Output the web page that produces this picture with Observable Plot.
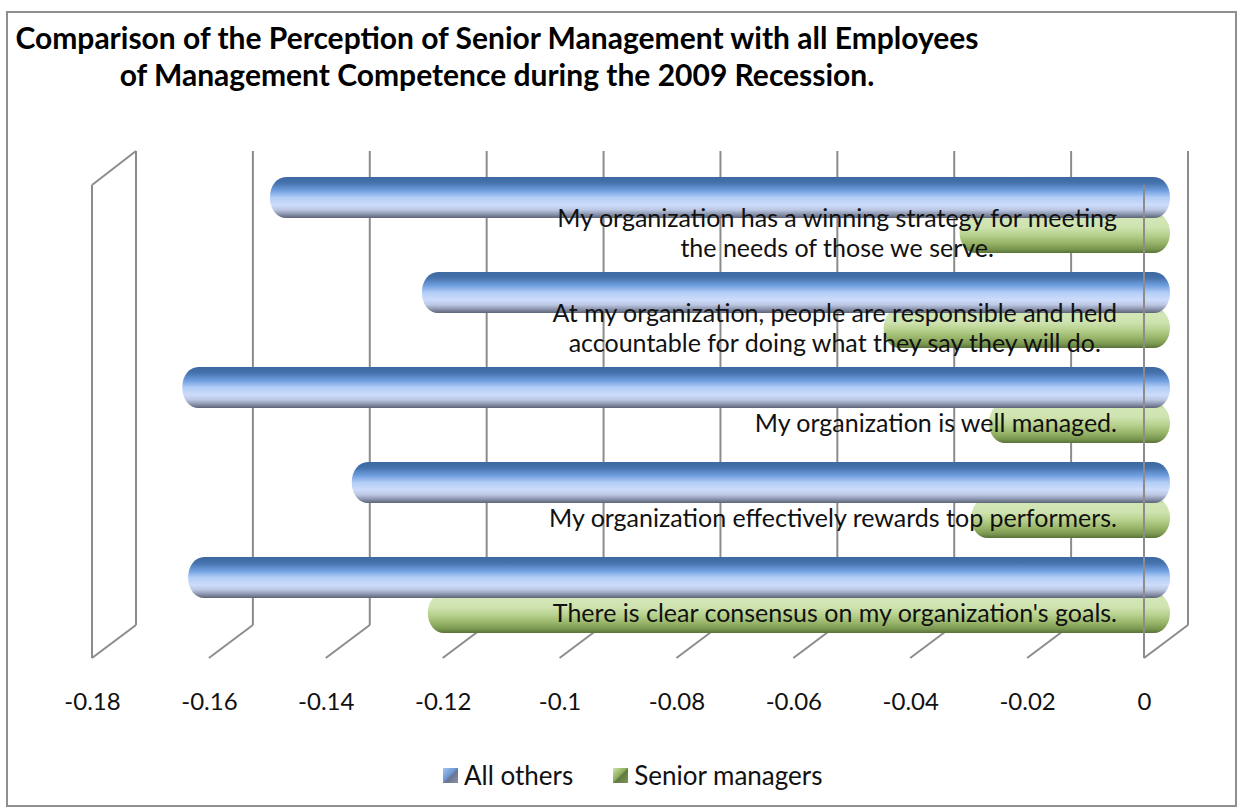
<!DOCTYPE html>
<html><head><meta charset="utf-8">
<script src="https://cdn.jsdelivr.net/npm/d3@7"></script>
<script src="https://cdn.jsdelivr.net/npm/@observablehq/plot@0.6"></script>
<style>
body{margin:0;background:#fff;font-family:Lato,"Open Sans",sans-serif;}
#wrap{position:relative;width:1241px;height:812px;overflow:hidden;background:#fff;}
#border{position:absolute;left:6px;top:11px;width:1231px;height:796px;border:2px solid #8f8f8f;box-sizing:border-box;}
#title{position:absolute;left:0;top:19px;width:994px;text-align:center;font-weight:bold;font-size:30px;line-height:37px;color:#000;white-space:nowrap;}
#chart{position:absolute;left:0;top:0;}
#legend{position:absolute;left:443px;top:759px;height:32px;display:flex;align-items:center;font-size:26px;color:#111;white-space:nowrap;}
.sw{display:inline-block;width:15px;height:15px;margin-right:6px;}
.item{display:flex;align-items:center;margin-right:40px;}
</style></head>
<body><div id="wrap"><div id="border"></div><div id="title">Comparison of the Perception of Senior Management with all Employees<br>of Management Competence during the 2009 Recession.</div><div id="chart"></div><div id="legend"></div></div>
<script>
const categories = [
  "My organization has a winning strategy for meeting\nthe needs of those we serve.",
  "At my organization, people are responsible and held\naccountable for doing what they say they will do.",
  "My organization is well managed.",
  "My organization effectively rewards top performers.",
  "There is clear consensus on my organization's goals."
];
const seriesNames = ["All others", "Senior managers"];
const allOthers = [-0.154, -0.128, -0.169, -0.140, -0.168];
const seniorManagers = [-0.036, -0.049, -0.031, -0.034, -0.127];
const tickValues = [-0.18, -0.16, -0.14, -0.12, -0.1, -0.08, -0.06, -0.04, -0.02, 0];
const tickLabels = ["-0.18", "-0.16", "-0.14", "-0.12", "-0.1", "-0.08", "-0.06", "-0.04", "-0.02", "0"];

const othersRows = categories.map((c, i) => ({category: c, value: allOthers[i]}));
const seniorRows = categories.map((c, i) => ({category: c, value: seniorManagers[i]}));

const DX = 44, DY = 33, GRID = "#8c8c8c";

// 3D frame: walls and floor lines derived from the x scale
function backFrame(index, scales, values, dimensions) {
  const x = scales.x;
  const yb = dimensions.height - dimensions.marginBottom;
  const yt = dimensions.marginTop;
  const g = d3.create("svg:g").attr("stroke", GRID).attr("stroke-width", 2).attr("fill", "none");
  for (const t of tickValues) {
    g.append("line").attr("x1", x(t) + DX).attr("x2", x(t) + DX).attr("y1", yt).attr("y2", yb - DY);
    g.append("line").attr("x1", x(t)).attr("x2", x(t) + DX).attr("y1", yb).attr("y2", yb - DY);
  }
  const x0 = x(tickValues[0]);
  g.append("line").attr("x1", x0).attr("x2", x0).attr("y1", yt + DY + 1).attr("y2", yb);
  g.append("line").attr("x1", x0).attr("x2", x0 + DX).attr("y1", yt + DY + 1).attr("y2", yt);
  return g.node();
}
function frontFrame(index, scales, values, dimensions) {
  const x = scales.x;
  const yb = dimensions.height - dimensions.marginBottom;
  const yt = dimensions.marginTop;
  const xe = x(tickValues[tickValues.length - 1]);
  const g = d3.create("svg:g").attr("stroke", GRID).attr("stroke-width", 2).attr("fill", "none");
  g.append("line").attr("x1", xe).attr("x2", xe).attr("y1", yt + DY + 1).attr("y2", yb);
  return g.node();
}

const plot = Plot.plot({
  width: 1241,
  height: 812,
  marginLeft: 92,
  marginRight: 97,
  marginTop: 151,
  marginBottom: 154,
  x: {domain: [-0.18, 0], axis: null},
  y: {domain: categories, range: [168, 643], padding: 0, axis: null},
  style: {fontFamily: "Lato, 'Open Sans', sans-serif", background: "transparent"},
  marks: [
    backFrame,
    Plot.barX(seniorRows, {y: "category", x: "value", fill: "url(#gradGreen)", insetTop: 45, insetBottom: 10, rx: 16, ry: 20, dx: 26}),
    Plot.barX(othersRows, {y: "category", x: "value", fill: "url(#gradBlue)", insetTop: 9, insetBottom: 45, rx: 16, ry: 20, dx: 26}),
    frontFrame,
    Plot.text(categories, {y: d => d, x: 0, text: d => d, textAnchor: "middle", dy: 16, fontSize: 25, lineHeight: 30 / 25, fill: "#111"}),
    Plot.axisX(tickValues, {tickFormat: d => tickLabels[tickValues.indexOf(d)], tickSize: 0, tickPadding: 34, fontSize: 24, fill: "#111", label: null})
  ]
});

document.getElementById("chart").appendChild(plot);

const defs = d3.select(plot).insert("defs", ":first-child");
function grad(id, stops) {
  const lg = defs.append("linearGradient").attr("id", id).attr("x1", 0).attr("y1", 0).attr("x2", 0).attr("y2", 1);
  for (const [o, c] of stops) lg.append("stop").attr("offset", o).attr("stop-color", c);
}
grad("gradBlue", [[0, "#3d68a1"], [0.14, "#4571ac"], [0.33, "#709fe0"], [0.5, "#b2cdf6"], [0.68, "#cddcfb"], [0.8, "#bcc7e3"], [0.9, "#8e98b1"], [1, "#5d6477"]]);
grad("gradGreen", [[0, "#a4bd7a"], [0.14, "#d3e6b6"], [0.35, "#cfe3b0"], [0.55, "#b7d18e"], [0.75, "#97b468"], [0.9, "#7a9750"], [1, "#5a7239"]]);

// right-align each label block, keeping its lines centred
const xs = plot.scale("x");
const target = xs.apply(0) - 27;
const svgLeft = plot.getBoundingClientRect().left;
d3.select(plot).selectAll('g[aria-label="text"] text').each(function () {
  const r = this.getBoundingClientRect();
  const shift = target - (r.right - svgLeft);
  this.setAttribute("transform", `translate(${shift},0) ` + (this.getAttribute("transform") || ""));
});

// legend
const legend = d3.select("#legend");
const swatches = ["linear-gradient(135deg,#a6c6f2 0%,#6d98d6 45%,#6b7590 55%,#8a92a6 100%)", "linear-gradient(135deg,#cfe3ad 0%,#8fae5e 45%,#5f7a3f 55%,#7e965c 100%)"];
seriesNames.forEach((n, i) => {
  const it = legend.append("div").attr("class", "item");
  it.append("span").attr("class", "sw").style("background", swatches[i]);
  it.append("span").text(n);
});
</script></body></html>
